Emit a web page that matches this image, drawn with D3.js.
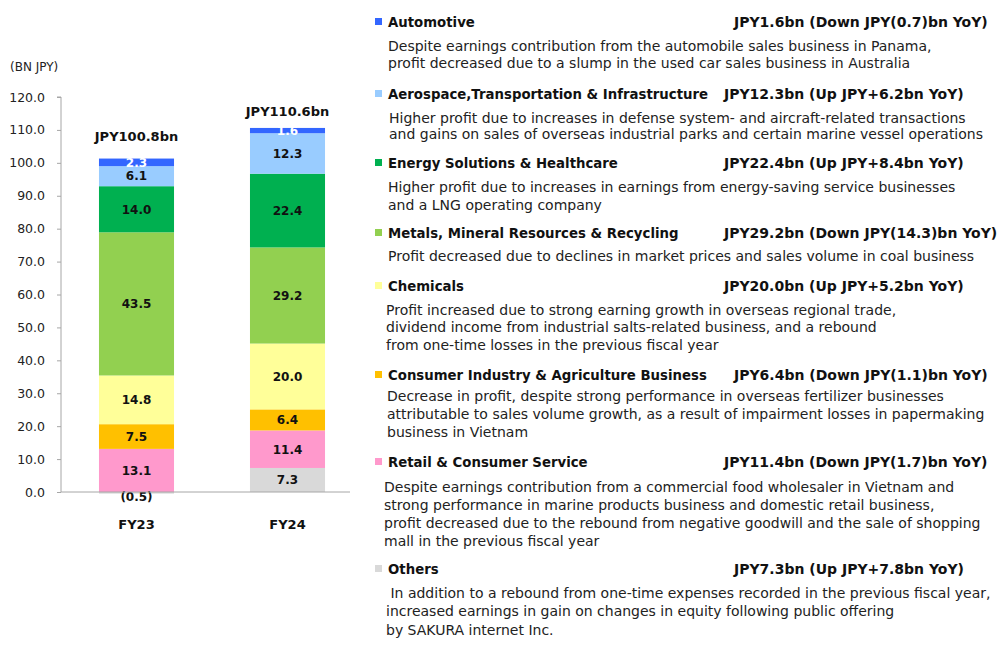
<!DOCTYPE html>
<html>
<head>
<meta charset="utf-8">
<script src="https://cdn.jsdelivr.net/npm/d3@7"></script>
<style>
  html, body { margin: 0; padding: 0; background: #fff; }
  svg { display: block; }
</style>
</head>
<body>
<svg id="chart" width="1000" height="654"></svg>
<script>
// ---------------- DATA ----------------
const categories = ["FY23", "FY24"];
const totalLabels = ["JPY100.8bn", "JPY110.6bn"];
const segments = [
  "Others",
  "Retail & Consumer Service",
  "Consumer Industry & Agriculture Business",
  "Chemicals",
  "Metals, Mineral Resources & Recycling",
  "Energy Solutions & Healthcare",
  "Aerospace,Transportation & Infrastructure",
  "Automotive"
];
const othersValues    = [-0.5, 7.3];
const retailValues    = [13.1, 11.4];
const consumerValues  = [7.5, 6.4];
const chemicalsValues = [14.8, 20.0];
const metalsValues    = [43.5, 29.2];
const energyValues    = [14.0, 22.4];
const aeroValues      = [6.1, 12.3];
const autoValues      = [2.3, 1.6];
const yTicks = [0, 10, 20, 30, 40, 50, 60, 70, 80, 90, 100, 110, 120];

const legendOrder = [
  "Automotive",
  "Aerospace,Transportation & Infrastructure",
  "Energy Solutions & Healthcare",
  "Metals, Mineral Resources & Recycling",
  "Chemicals",
  "Consumer Industry & Agriculture Business",
  "Retail & Consumer Service",
  "Others"
];
const legendValueText = [
  "JPY1.6bn (Down JPY(0.7)bn YoY)",
  "JPY12.3bn (Up JPY+6.2bn YoY)",
  "JPY22.4bn (Up JPY+8.4bn YoY)",
  "JPY29.2bn (Down JPY(14.3)bn YoY)",
  "JPY20.0bn (Up JPY+5.2bn YoY)",
  "JPY6.4bn (Down JPY(1.1)bn YoY)",
  "JPY11.4bn (Down JPY(1.7)bn YoY)",
  "JPY7.3bn (Up JPY+7.8bn YoY)"
];
const legendDesc = [
  ["Despite earnings contribution from the automobile sales business in Panama,",
   "profit decreased due to a slump in the used car sales business in Australia"],
  ["Higher profit due to increases in defense system- and aircraft-related transactions",
   "and gains on sales of overseas industrial parks and certain marine vessel operations"],
  ["Higher profit due to increases in earnings from energy-saving service businesses",
   "and a LNG operating company"],
  ["Profit decreased due to declines in market prices and sales volume in coal business"],
  ["Profit increased due to strong earning growth in overseas regional trade,",
   "dividend income from industrial salts-related business, and a rebound",
   "from one-time losses in the previous fiscal year"],
  ["Decrease in profit, despite strong performance in overseas fertilizer businesses",
   "attributable to sales volume growth, as a result of impairment losses in papermaking",
   "business in Vietnam"],
  ["Despite earnings contribution from a commercial food wholesaler in Vietnam and",
   "strong performance in marine products business and domestic retail business,",
   "profit decreased due to the rebound from negative goodwill and the sale of shopping",
   "mall in the previous fiscal year"],
  [" In addition to a rebound from one-time expenses recorded in the previous fiscal year,",
   "increased earnings in gain on changes in equity following public offering",
   "by SAKURA internet Inc."]
];

// ---------------- STYLE / LAYOUT ----------------
const colors = {
  "Others": "#d9d9d9",
  "Retail & Consumer Service": "#ff99cc",
  "Consumer Industry & Agriculture Business": "#ffc000",
  "Chemicals": "#ffff99",
  "Metals, Mineral Resources & Recycling": "#92d050",
  "Energy Solutions & Healthcare": "#00b050",
  "Aerospace,Transportation & Infrastructure": "#99ccff",
  "Automotive": "#3366ff"
};
const headerCenters = [22, 94, 163, 233, 286, 375, 462, 569];
const descCenters = [
  [46, 63], [118, 134], [187, 205], [256], [310, 327, 345],
  [396, 414, 432], [487, 505, 523, 541], [593, 611, 630]
];
const descX = [388, 389, 388, 388, 386, 387, 384, 386];
const valueX = [734, 724, 724, 724, 724, 734, 724, 734];
const totalOffsets = [22, 17];

const FONT = "'DejaVu Sans', Verdana, sans-serif";
const svg = d3.select("#chart");

// Build table
const valueArrays = [othersValues, retailValues, consumerValues, chemicalsValues,
  metalsValues, energyValues, aeroValues, autoValues];
const table = categories.map((c, i) => {
  const row = { category: c };
  segments.forEach((s, k) => row[s] = valueArrays[k][i]);
  return row;
});

const stack = d3.stack().keys(segments).offset(d3.stackOffsetDiverging);
const series = stack(table);

const x = d3.scaleBand().domain(categories).range([61, 363])
  .paddingInner(0.503).paddingOuter(0.2515);
const y = d3.scaleLinear().domain([0, 120]).range([492, 97]);

// y axis
const yAxis = d3.axisLeft(y).tickValues(yTicks).tickFormat(d3.format(".1f"))
  .tickSize(4).tickPadding(12);
const gy = svg.append("g").attr("transform", "translate(61,0)").call(yAxis);
gy.select(".domain").attr("stroke", "#a6a6a6").attr("d", `M-4,${y(120)}H0V${y(0)}`);
gy.selectAll(".tick line").attr("stroke", "#a6a6a6");
gy.selectAll(".tick text").attr("font-family", FONT).attr("font-size", 12.5).attr("fill", "#222");

// bars
const gBars = svg.append("g");
series.forEach(s => {
  gBars.selectAll(null).data(s).enter().append("rect")
    .attr("x", d => x(d.data.category))
    .attr("width", x.bandwidth())
    .attr("y", d => y(Math.max(d[0], d[1])))
    .attr("height", d => Math.abs(y(d[0]) - y(d[1])))
    .attr("fill", colors[s.key]);
});

// baseline
svg.append("line").attr("x1", 61).attr("x2", 350).attr("y1", y(0)).attr("y2", y(0))
  .attr("stroke", "#a6a6a6").attr("stroke-width", 1);

// segment labels
series.forEach(s => {
  gBars.selectAll(null).data(s).enter().append("text")
    .attr("x", d => x(d.data.category) + x.bandwidth() / 2)
    .attr("y", d => {
      const neg = d.data[s.key] < 0;
      return neg ? y(0) + 5 : y((d[0] + d[1]) / 2);
    })
    .attr("dy", "0.36em")
    .attr("text-anchor", "middle")
    .attr("font-family", FONT).attr("font-size", 12).attr("font-weight", "bold")
    .attr("fill", s.key === "Automotive" ? "#ffffff" : "#111")
    .text(d => {
      const v = d.data[s.key];
      return v < 0 ? `(${d3.format(".1f")(-v)})` : d3.format(".1f")(v);
    });
});

// totals
const tops = categories.map((c, i) => d3.max(series, s => s[i][1]));
svg.selectAll(null).data(categories).enter().append("text")
  .attr("x", c => x(c) + x.bandwidth() / 2)
  .attr("y", (c, i) => y(tops[i]) - totalOffsets[i])
  .attr("dy", "0.36em")
  .attr("text-anchor", "middle")
  .attr("font-family", FONT).attr("font-size", 13).attr("font-weight", "bold")
  .attr("fill", "#111")
  .text((c, i) => totalLabels[i]);

// category labels
svg.selectAll(null).data(categories).enter().append("text")
  .attr("x", c => x(c) + x.bandwidth() / 2)
  .attr("y", 524)
  .attr("dy", "0.36em")
  .attr("text-anchor", "middle")
  .attr("font-family", FONT).attr("font-size", 13).attr("font-weight", "bold")
  .attr("fill", "#111")
  .text(c => c);

// unit label
svg.append("text").attr("x", 10).attr("y", 67).attr("dy", "0.36em")
  .attr("font-family", FONT).attr("font-size", 12).attr("fill", "#222")
  .text("(BN JPY)");

// legend / commentary
const gL = svg.append("g");
legendOrder.forEach((name, i) => {
  const cy = headerCenters[i];
  gL.append("rect").attr("x", 375).attr("y", cy - 4).attr("width", 7).attr("height", 7)
    .attr("fill", colors[name]);
  gL.append("text").attr("x", 388).attr("y", cy).attr("dy", "0.36em")
    .attr("font-family", FONT).attr("font-size", 13.3).attr("font-weight", "bold")
    .attr("fill", "#111").text(name);
  gL.append("text").attr("x", valueX[i]).attr("y", cy).attr("dy", "0.36em")
    .attr("font-family", FONT).attr("font-size", 14).attr("font-weight", "bold")
    .attr("fill", "#111").text(legendValueText[i]);
  legendDesc[i].forEach((line, j) => {
    gL.append("text").attr("x", descX[i]).attr("y", descCenters[i][j]).attr("dy", "0.36em")
      .attr("font-family", FONT).attr("font-size", 14)
      .attr("fill", "#222").attr("xml:space", "preserve")
      .style("white-space", "pre")
      .text(line);
  });
});
</script>
</body>
</html>
